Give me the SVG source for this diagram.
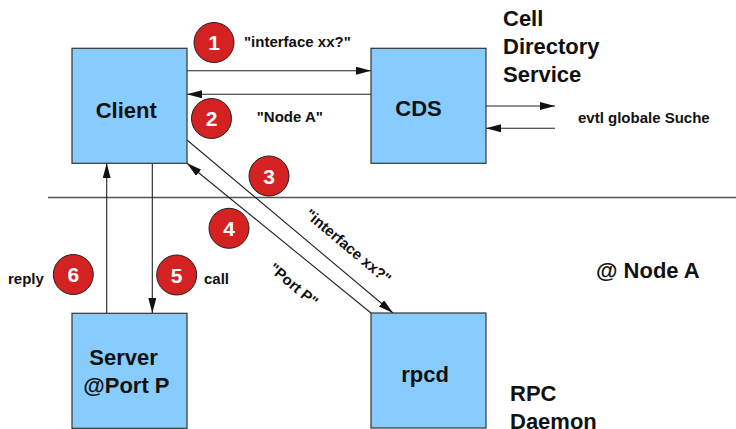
<svg xmlns="http://www.w3.org/2000/svg" width="736" height="429" viewBox="0 0 736 429">
  <style>
    text { font-family: "Liberation Sans", Arial, sans-serif; font-weight: bold; fill: #111; }
    .box { fill: #88ccfd; stroke: #333; stroke-width: 1.2; }
    .big { font-size: 22px; }
    .lbl { font-size: 15px; }
    .wire { stroke: #222; stroke-width: 1.1; fill: none; marker-end: url(#head); }
    .sep { stroke: #555; stroke-width: 1.3; }
    .badge circle { fill: #d42222; stroke: #222; stroke-width: 1; }
    .badge text { fill: #fff; font-size: 21px; text-anchor: middle; }
  </style>
  <defs>
    <marker id="head" viewBox="0 0 15 8" refX="15" refY="4" markerWidth="15" markerHeight="8" markerUnits="userSpaceOnUse" orient="auto">
      <path d="M0,0 L15,4 L0,8 z" fill="#111"/>
    </marker>
  </defs>

  <rect width="736" height="429" fill="#fff"/>

  <!-- boundary between the cell and node A -->
  <line class="sep" x1="48" y1="197.5" x2="736" y2="197.5"/>

  <g id="connectors">
    <line class="wire" x1="187" y1="70.7" x2="371" y2="70.7"/>
    <line class="wire" x1="371" y1="94.3" x2="187" y2="94.3"/>
    <line class="wire" x1="486" y1="106" x2="555" y2="106"/>
    <line class="wire" x1="555" y1="128.3" x2="486" y2="128.3"/>
    <line class="wire" x1="187" y1="140" x2="393" y2="313"/>
    <line class="wire" x1="371" y1="313" x2="187" y2="163.3"/>
    <line class="wire" x1="106.7" y1="313" x2="106.7" y2="163.3"/>
    <line class="wire" x1="152.3" y1="163.3" x2="152.3" y2="313"/>
  </g>

  <g id="client">
    <rect class="box" x="72" y="48.3" width="115" height="115"/>
    <text class="big" x="126.3" y="117.5" text-anchor="middle">Client</text>
  </g>
  <g id="cds">
    <rect class="box" x="371" y="48.3" width="115" height="115"/>
    <text class="big" x="418.5" y="116" text-anchor="middle">CDS</text>
  </g>
  <g id="server">
    <rect class="box" x="72" y="313.3" width="115" height="115"/>
    <text class="big" x="89.3" y="365">Server</text>
    <text class="big" x="83.3" y="393">@Port P</text>
  </g>
  <g id="rpcd">
    <rect class="box" x="371" y="313" width="115" height="115"/>
    <text class="big" x="425" y="381.5" text-anchor="middle">rpcd</text>
  </g>

  <!-- titles -->
  <text class="big" x="503" y="26">Cell</text>
  <text class="big" x="503" y="54">Directory</text>
  <text class="big" x="503" y="82">Service</text>
  <text class="big" x="596" y="277.5">@ Node A</text>
  <text class="big" x="510" y="401">RPC</text>
  <text class="big" x="510" y="428.5">Daemon</text>

  <!-- message labels -->
  <text class="lbl" x="244" y="47">"interface xx?"</text>
  <text class="lbl" x="256.7" y="122">"Node A"</text>
  <text class="lbl" x="578" y="123">evtl globale Suche</text>
  <text class="lbl" x="8" y="284">reply</text>
  <text class="lbl" x="204" y="284">call</text>
  <text class="lbl" transform="translate(304 216) rotate(40)">"interface xx?"</text>
  <text class="lbl" transform="translate(268 270) rotate(40)">"Port P"</text>

  <!-- step numbers -->
  <g class="badge" id="step1"><circle cx="214" cy="42.5" r="20"/><text x="214" y="50">1</text></g>
  <g class="badge" id="step2"><circle cx="211.5" cy="118.5" r="20"/><text x="211.5" y="126">2</text></g>
  <g class="badge" id="step3"><circle cx="269" cy="176" r="20"/><text x="269" y="183.5">3</text></g>
  <g class="badge" id="step4"><circle cx="229" cy="228.3" r="20"/><text x="229" y="235.8">4</text></g>
  <g class="badge" id="step5"><circle cx="176.7" cy="275" r="20"/><text x="176.7" y="282.5">5</text></g>
  <g class="badge" id="step6"><circle cx="73.3" cy="274.5" r="20"/><text x="73.3" y="282">6</text></g>
</svg>
